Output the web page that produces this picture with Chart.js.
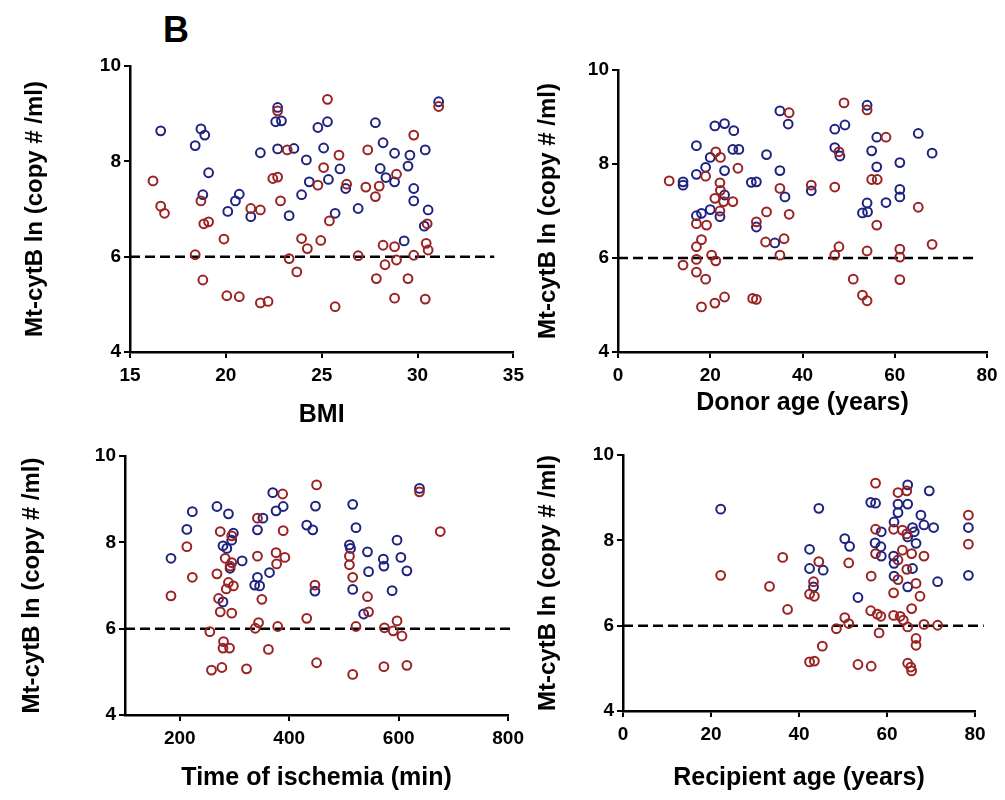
<!DOCTYPE html>
<html>
<head>
<meta charset="utf-8">
<script src="https://cdn.jsdelivr.net/npm/chart.js@4"></script>
<style>
body{margin:0;background:#fff;width:1005px;height:800px;position:relative;overflow:hidden}
canvas{position:absolute}
#tag{position:absolute;left:163px;top:9px;font:bold 36px "Liberation Sans",Arial,sans-serif;color:#000}
</style>
</head>
<body>
<div id="tag">B</div>
<canvas id="bmi" width="530" height="390" style="left:0;top:40px"></canvas>
<canvas id="donor" width="495" height="390" style="left:510px;top:40px"></canvas>
<canvas id="isch" width="530" height="370" style="left:0;top:430px"></canvas>
<canvas id="recip" width="495" height="370" style="left:510px;top:430px"></canvas>
<script>

const BLUE = "#1e2280"
const RED = "#9a2222"
const yTitle = "Mt-cytB ln (copy # /ml)"
const cutoff = 6

/* ---------------- DATA ---------------- */

// BMI panel: [x, y]
const bmiBlue = [[16.6,8.64],[18.7,8.68],[18.9,8.55],[18.4,8.33],[19.1,7.76],[18.8,7.30],[20.1,6.95],[20.5,7.17],[20.7,7.31],[21.3,6.84],[21.8,8.18],[22.7,9.13],[22.6,8.83],[22.9,8.85],[22.7,8.26],[23.55,8.27],[23.3,6.86],[23.95,7.30],[24.2,8.03],[24.8,8.71],[25.3,8.83],[25.1,8.28],[25.95,7.84],[25.35,7.62],[24.35,7.57],[25.7,6.91],[26.25,7.43],[26.9,7.01],[27.8,8.81],[28.2,8.39],[28.05,7.85],[28.35,7.66],[28.8,7.57],[28.8,8.17],[29.6,8.13],[29.5,7.90],[30.4,8.24],[29.8,7.43],[29.8,7.17],[30.55,6.98],[30.35,6.64],[29.3,6.33],[31.1,9.25]]
const bmiRed = [[16.2,7.59],[16.6,7.06],[16.8,6.91],[18.4,6.04],[18.8,5.51],[18.7,7.17],[18.85,6.69],[19.1,6.73],[19.9,6.37],[20.05,5.18],[20.7,5.16],[21.3,7.01],[21.8,6.98],[21.8,5.03],[22.2,5.06],[22.7,9.06],[22.45,7.64],[22.7,7.67],[22.85,7.17],[23.2,8.24],[23.3,5.96],[23.7,5.68],[23.95,6.38],[25.3,9.30],[25.9,8.13],[25.1,7.87],[24.8,7.50],[26.3,7.52],[27.4,8.24],[27.3,7.46],[27.8,7.26],[28.0,7.48],[28.9,7.73],[29.8,8.55],[31.1,9.15],[25.4,6.75],[24.25,6.17],[24.95,6.34],[25.7,4.95],[26.9,6.02],[28.2,6.24],[28.8,6.21],[28.3,5.83],[28.9,5.93],[29.8,6.03],[30.45,6.28],[30.55,6.14],[30.5,6.69],[27.85,5.54],[29.5,5.54],[28.8,5.13],[30.4,5.11]]

// Donor age panel
const donorBlue = [[14.1,7.62],[14.1,7.55],[17.0,8.39],[17.0,7.78],[17.0,6.90],[18.1,6.95],[19.0,7.93],[20.0,8.14],[20.0,7.03],[21.0,8.81],[23.1,8.86],[25.1,8.71],[24.9,8.31],[26.2,8.31],[23.1,7.86],[23.1,7.34],[22.1,6.88],[28.9,7.61],[30.0,7.62],[32.2,8.20],[30.0,6.66],[34.0,6.32],[35.1,9.13],[36.9,8.85],[35.1,7.86],[36.2,7.30],[41.9,7.43],[47.0,8.74],[49.2,8.83],[47.0,8.35],[48.1,8.17],[54.0,9.25],[56.1,8.57],[55.0,8.28],[56.1,7.94],[61.1,8.03],[65.1,8.65],[68.1,8.23],[61.1,7.46],[61.1,7.30],[58.1,7.18],[54.0,7.17],[53.0,6.96],[54.1,6.98]]
const donorRed = [[11.1,7.64],[14.1,5.85],[17.0,6.73],[19.2,6.70],[18.1,6.39],[17.0,6.24],[17.0,5.97],[17.0,5.70],[19.0,5.55],[18.1,4.96],[21.0,5.04],[23.1,5.17],[20.3,6.06],[21.2,5.94],[19.0,7.74],[21.2,8.26],[22.2,8.14],[22.1,7.60],[22.2,7.44],[21.0,7.27],[22.9,7.20],[24.9,7.20],[22.1,7.00],[26.0,7.91],[29.2,5.14],[30.0,5.12],[30.0,6.77],[32.2,6.98],[32.0,6.34],[35.1,7.48],[37.1,6.93],[36.0,6.41],[35.1,6.06],[37.1,9.09],[41.9,7.55],[47.0,7.51],[49.0,9.30],[54.0,9.15],[47.9,8.26],[58.1,8.57],[55.0,7.67],[56.2,7.67],[65.1,7.08],[56.1,6.70],[68.1,6.29],[47.9,6.24],[47.0,6.06],[54.0,6.15],[61.1,6.19],[61.1,6.02],[51.0,5.55],[61.1,5.54],[53.0,5.21],[54.0,5.09]]

// Time of ischemia panel
const ischBlue = [[184,7.63],[213,8.30],[223,8.71],[268,8.83],[289,8.66],[279,7.92],[286,7.86],[298,8.21],[295,8.05],[292,7.40],[314,7.57],[279,6.62],[342,8.29],[352,8.56],[370,9.15],[376,8.73],[389,8.83],[342,7.19],[337,7.01],[346,6.99],[364,7.30],[432,8.40],[443,8.29],[448,8.84],[447,6.87],[516,8.88],[522,8.34],[510,7.94],[512,7.86],[543,7.78],[572,7.61],[573,7.45],[545,7.32],[516,6.91],[597,8.05],[604,7.65],[615,7.34],[588,6.88],[536,6.34],[638,9.25]]
const ischRed = [[184,6.76],[213,7.90],[223,7.19],[274,8.25],[295,8.15],[283,7.63],[295,7.53],[292,7.45],[268,7.27],[289,7.07],[298,6.99],[285,6.92],[271,6.70],[274,6.39],[295,6.36],[255,5.93],[280,5.70],[279,5.55],[291,5.55],[258,5.04],[277,5.10],[322,5.07],[342,8.56],[342,7.68],[389,8.27],[388,9.12],[376,7.76],[377,7.50],[392,7.65],[350,6.68],[338,6.01],[344,6.14],[379,6.05],[362,5.52],[432,6.24],[450,9.33],[447,7.01],[450,5.21],[510,7.68],[510,7.48],[516,7.19],[543,6.74],[545,6.39],[522,6.05],[574,6.02],[597,6.18],[590,5.95],[606,5.83],[516,4.94],[573,5.12],[615,5.15],[638,9.17],[676,8.25]]

// Recipient age panel
const recipBlue = [[22.2,8.73],[44.5,8.75],[42.4,7.79],[42.4,7.34],[45.5,7.30],[43.3,6.91],[50.4,8.04],[51.5,7.86],[53.4,6.66],[56.3,8.89],[57.4,8.87],[57.3,7.94],[64.7,9.30],[69.6,9.16],[62.5,8.85],[64.7,8.85],[62.5,8.65],[67.7,8.59],[61.6,8.43],[65.8,8.30],[68.4,8.36],[70.6,8.30],[66.2,8.20],[58.7,8.20],[58.6,7.85],[64.7,8.08],[66.6,7.93],[58.7,7.63],[61.5,7.63],[61.6,7.46],[65.8,7.34],[61.6,7.16],[64.7,6.91],[71.5,7.03],[78.5,8.30],[78.5,7.18]]
const recipRed = [[22.2,7.18],[33.3,6.92],[36.3,7.60],[37.4,6.38],[44.5,7.50],[43.3,7.03],[42.4,6.74],[43.5,6.69],[51.3,7.47],[56.4,7.16],[57.4,9.34],[57.4,8.26],[57.4,7.69],[56.3,6.35],[57.8,6.27],[58.2,5.83],[50.4,6.19],[51.3,6.05],[48.5,5.93],[45.3,5.52],[42.4,5.15],[43.5,5.17],[53.4,5.09],[56.4,5.05],[62.5,9.12],[64.5,9.16],[61.5,8.26],[63.5,8.24],[64.5,8.15],[78.5,8.59],[78.5,7.91],[63.5,7.77],[65.6,7.69],[68.4,7.63],[62.5,7.54],[64.5,7.32],[62.5,7.08],[66.6,6.99],[61.5,6.77],[67.5,6.69],[65.6,6.40],[58.6,6.22],[61.5,6.24],[63.0,6.22],[63.7,6.13],[64.7,5.97],[68.4,6.03],[71.5,6.01],[66.6,5.70],[66.6,5.54],[64.7,5.12],[65.4,5.03],[65.6,4.94]]

const yTicks = [4,6,8,10]
const bmiTicks = [15,20,25,30,35]
const ageTicks = [0,20,40,60,80]
const ischTicks = [200,400,600,800]

/* ---------------- CHARTS ---------------- */

Chart.defaults.font.family = '"Liberation Sans", Arial, sans-serif'
Chart.defaults.font.weight = "bold"
Chart.defaults.color = "#000"

const pts = arr => arr.map(p => ({x:p[0], y:p[1]}))

function panel(id, o){

new Chart(document.getElementById(id),{

type:"scatter",

data:{
datasets:[
{
data:pts(o.red),
borderColor:RED,
backgroundColor:"rgba(0,0,0,0)",
borderWidth:2,
pointRadius:4.4
},
{
data:pts(o.blue),
borderColor:BLUE,
backgroundColor:"rgba(0,0,0,0)",
borderWidth:2,
pointRadius:4.4
},
{
type:"line",
data:[{x:o.min,y:cutoff},{x:o.lineEnd,y:cutoff}],
borderColor:"#000",
borderWidth:2.5,
borderDash:[10,5],
pointRadius:0,
clip:false
}
]
},

options:{
responsive:false,
animation:false,
layout:{padding:{top:o.pt,right:o.pr,left:0,bottom:0}},
plugins:{legend:{display:false},tooltip:{enabled:false}},
scales:{
x:{
type:"linear",
min:o.min,
max:o.max,
afterBuildTicks:s => { s.ticks = o.ticks.map(v => ({value:v})) },
afterFit:s => { s.height = o.xh },
ticks:{font:{size:19,weight:"bold"},color:"#000",padding:6,maxRotation:0},
grid:{drawOnChartArea:false,color:"#000",lineWidth:2,tickLength:6},
border:{color:"#000",width:2.5},
title:{display:true,text:o.xTitle,color:"#000",font:{size:25,weight:"bold"},padding:{top:0,bottom:o.tb}}
},
y:{
min:4,
max:10,
afterBuildTicks:s => { s.ticks = yTicks.map(v => ({value:v})) },
afterFit:s => { s.width = o.yw },
ticks:{font:{size:19,weight:"bold"},color:"#000",padding:3},
grid:{drawOnChartArea:false,color:"#000",lineWidth:2,tickLength:6},
border:{color:"#000",width:2.5},
title:{display:true,text:yTitle,color:"#000",font:{size:24,weight:"bold"},padding:{top:o.tp,bottom:0}}
}
}
}

})

}

panel("bmi",{blue:bmiBlue,red:bmiRed,min:15,max:35,lineEnd:34,ticks:bmiTicks,xTitle:"BMI",
pt:26,pr:13,xh:78,yw:130,tb:0,tp:21})

panel("donor",{blue:donorBlue,red:donorRed,min:0,max:80,lineEnd:78,ticks:ageTicks,xTitle:"Donor age (years)",
pt:30,pr:18,xh:78,yw:108,tb:12,tp:24})

panel("isch",{blue:ischBlue,red:ischRed,min:100,max:800,lineEnd:808,ticks:ischTicks,xTitle:"Time of ischemia (min)",
pt:26,pr:17,xh:85,yw:125,tb:7,tp:18})

panel("recip",{blue:recipBlue,red:recipRed,min:0,max:80,lineEnd:82,ticks:ageTicks,xTitle:"Recipient age (years)",
pt:25,pr:30,xh:89,yw:113,tb:7,tp:24})

</script>
</body>
</html>
